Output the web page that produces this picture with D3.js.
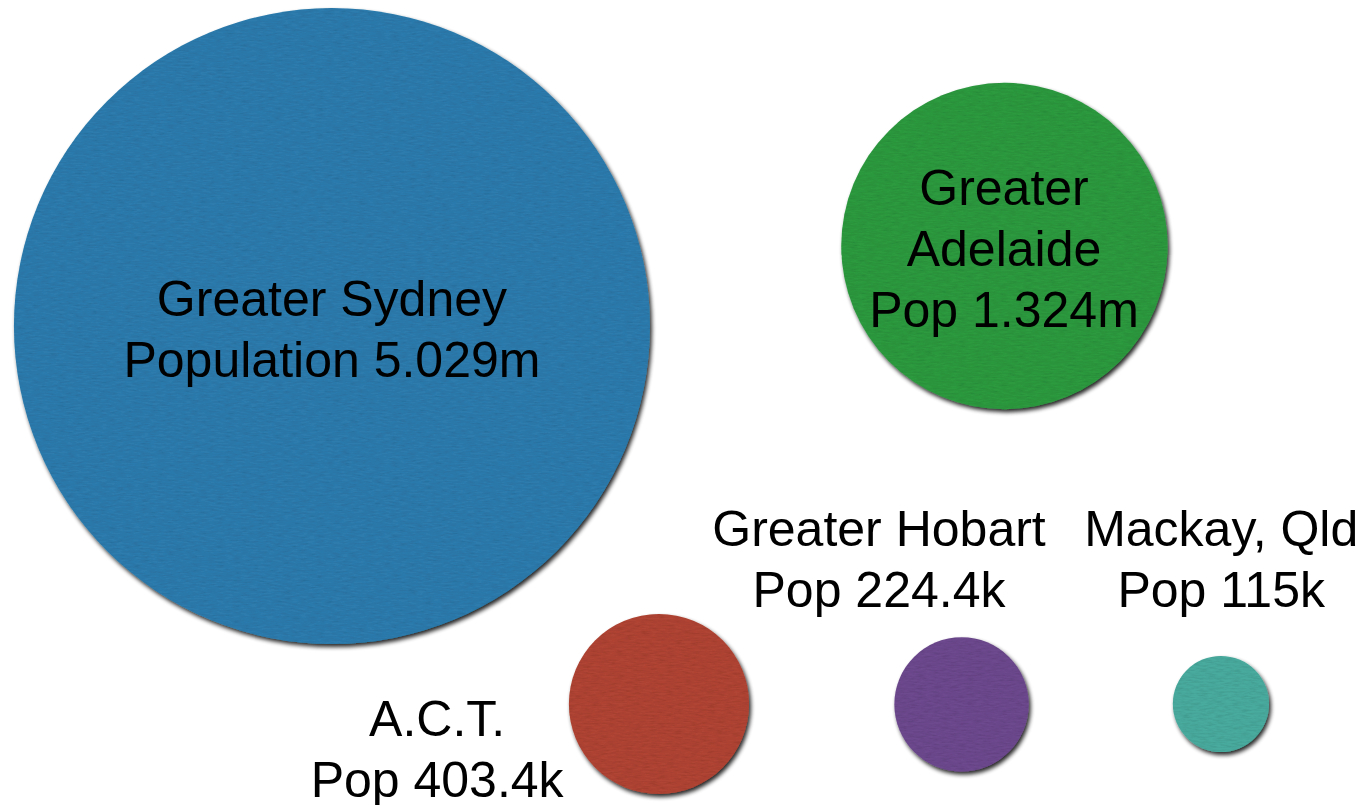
<!DOCTYPE html>
<html>
<head>
<meta charset="utf-8">
<script src="https://cdn.jsdelivr.net/npm/d3@7"></script>
<style>
  html, body { margin: 0; padding: 0; background: #ffffff; }
  svg { display: block; }
  .label { font-family: "Liberation Sans", Arial, Helvetica, sans-serif; font-size: 50px; fill: #000; }
</style>
</head>
<body>
<div id="bubbleVis"></div>
<script>
//######################## Data ##############################

var regions     = ["Greater Sydney", "Greater Adelaide", "A.C.T.", "Greater Hobart", "Mackay, Qld"];
var populations = [5.029, 1.324, 0.4034, 0.2244, 0.115];   // millions
var labelLines  = [
	["Greater Sydney", "Population 5.029m"],
	["Greater", "Adelaide", "Pop 1.324m"],
	["A.C.T.", "Pop 403.4k"],
	["Greater Hobart", "Pop 224.4k"],
	["Mackay, Qld", "Pop 115k"]
];

//######################## Layout / style ####################

var colours = ["#2d7cae", "#2f9a41", "#b04434", "#6d4a8e", "#49ab9e"];
// circle centres and label anchors, as fractions of the drawing area
var centreX = [0.243, 0.7353, 0.4824, 0.7039, 0.8938];
var centreY = [0.405, 0.3056, 0.8745, 0.875, 0.8745];
var labelX  = [0.243, 0.735, 0.32, 0.6435, 0.894];
var labelY  = [0.3925, 0.2547, 0.914, 0.678, 0.678];

var width = 1366;
var height = 805;
var maxRadius = 318;
var lineHeight = 61;

var svg = d3.select("#bubbleVis")
			.append("svg")
			.attr("width", width)
			.attr("height", height);

var xscale = d3.scaleLinear().domain([0, 1]).range([0, width]);
var yscale = d3.scaleLinear().domain([0, 1]).range([0, height]);
// area proportional to population
var rscale = d3.scaleSqrt().domain([0, d3.max(populations)]).range([0, maxRadius]);

//Paper texture + drop shadow
var defs = svg.append("defs");
var filter = defs.append("filter").attr("id", "paper")
	.attr("x", "-10%").attr("y", "-10%").attr("width", "125%").attr("height", "125%");
filter.append("feGaussianBlur").attr("in", "SourceAlpha").attr("stdDeviation", 2.2).attr("result", "blur");
filter.append("feOffset").attr("in", "blur").attr("dx", 2).attr("dy", 3).attr("result", "offBlur");
filter.append("feComponentTransfer").attr("in", "offBlur").attr("result", "shadow")
	.append("feFuncA").attr("type", "linear").attr("slope", 0.85);
filter.append("feTurbulence").attr("type", "fractalNoise")
	.attr("baseFrequency", "0.12 0.6").attr("numOctaves", 3).attr("seed", 7).attr("result", "noise");
filter.append("feColorMatrix").attr("in", "noise").attr("type", "matrix")
	.attr("values", "0 0 0 0 0  0 0 0 0 0  0 0 0 0 0  0.35 0 0 0 -0.12").attr("result", "grain");
filter.append("feComposite").attr("in", "grain").attr("in2", "SourceGraphic").attr("operator", "in").attr("result", "grainIn");
var merge = filter.append("feMerge");
merge.append("feMergeNode").attr("in", "shadow");
merge.append("feMergeNode").attr("in", "SourceGraphic");
merge.append("feMergeNode").attr("in", "grainIn");

var items = regions.map(function(r, i) {
	return { name: r, pop: populations[i], lines: labelLines[i], i: i };
});

svg.selectAll("circle.region")
	.data(items)
	.enter().append("circle")
		.attr("class", "region")
		.attr("cx", function(d) { return xscale(centreX[d.i]); })
		.attr("cy", function(d) { return yscale(centreY[d.i]); })
		.attr("r", function(d) { return rscale(d.pop); })
		.attr("fill", function(d) { return colours[d.i]; })
		.attr("filter", "url(#paper)")
		.append("title").text(function(d) { return d.name + ": " + d.pop + "m"; });

var labels = svg.selectAll("text.label")
	.data(items)
	.enter().append("text")
		.attr("class", "label")
		.attr("text-anchor", "middle")
		.attr("x", function(d) { return xscale(labelX[d.i]); })
		.attr("y", function(d) { return yscale(labelY[d.i]); });

labels.selectAll("tspan")
	.data(function(d) { return d.lines.map(function(l) { return { text: l, x: xscale(labelX[d.i]) }; }); })
	.enter().append("tspan")
		.attr("x", function(t) { return t.x; })
		.attr("dy", function(t, k) { return k === 0 ? 0 : lineHeight; })
		.text(function(t) { return t.text; });
</script>
</body>
</html>
